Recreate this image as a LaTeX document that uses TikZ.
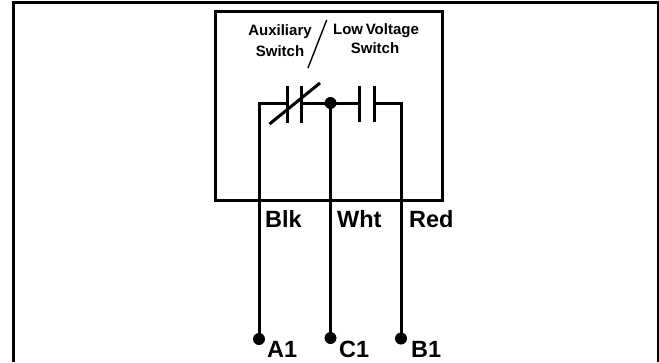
\documentclass[tikz,border=0pt]{standalone}
\usepackage{fontspec}
\setmainfont{Liberation Sans}
\tikzset{
  wire/.style={line width=3pt,black},
  outline/.style={line width=3pt,black},
  thinline/.style={line width=1.4pt,black},
  termdot/.style={circle,fill=black,inner sep=0pt,minimum size=12pt},
  smalltxt/.style={font=\fontsize{15}{17}\selectfont\bfseries,inner sep=0pt,anchor=base},
  bigtxt/.style={font=\fontsize{23.5}{26}\selectfont\bfseries,inner sep=0pt,anchor=base west},
}
\begin{document}
\begin{tikzpicture}[x=1pt,y=-1pt]
\useasboundingbox (0,0) rectangle (659,362);
% outer frame
\draw[line width=3pt] (13.5,362) -- (13.5,2) -- (658.5,2) -- (658.5,362);
% device box
\draw[outline] (215.5,11.5) rectangle (442.5,200.5);
% nodes
\node[termdot] (junction) at (330.5,103) {};
\node[termdot] (a1) at (259,339) {};
\node[termdot] (c1) at (330.5,338) {};
\node[termdot] (b1) at (401,338.5) {};
\coordinate (ltop) at (259.5,103.5);
\coordinate (rtop) at (401.5,103.5);
\coordinate (p1t) at (287.5,86); \coordinate (p1b) at (287.5,123);
\coordinate (p2t) at (301.5,86);   \coordinate (p2b) at (301.5,123);
\coordinate (p3t) at (359.5,85.5); \coordinate (p3b) at (359.5,122);
\coordinate (p4t) at (374.5,85.5); \coordinate (p4b) at (374.5,122);
\coordinate (p1m) at (287.5,103.5); \coordinate (p2m) at (301.5,103.5);
\coordinate (p3m) at (359.5,103.5);   \coordinate (p4m) at (374.5,103.5);
\coordinate (slashA) at (269.5,124); \coordinate (slashB) at (320,83);
\coordinate (divA) at (326.7,20); \coordinate (divB) at (308,68);
% wires
\draw[wire] (a1.center -| ltop) -- (ltop) -- (p1m);
\draw[wire] (p2m) -- (p3m);
\draw[wire] (c1.center) -- (junction.center);
\draw[wire] (b1.center -| rtop) -- (rtop) -- (p4m);
% contacts
\draw[wire] (p1t) -- (p1b);
\draw[wire] (p2t) -- (p2b);
\draw[wire] (p3t) -- (p3b);
\draw[wire] (p4t) -- (p4b);
\draw[wire] (slashA) -- (slashB);
\draw[thinline] (divA) -- (divB);
% text
\node[smalltxt] (t1) at (280,35) {Auxiliary};
\node[smalltxt] (t2) at (280,56) {Switch};
\node[smalltxt] (t3) at (376,34) {Low\hspace{-1.5pt} Voltage};
\node[smalltxt] (t4) at (375,53) {Switch};
\node[bigtxt] (blk) at (265,227) {Blk};
\node[bigtxt] (wht) at (337,227) {Wht};
\node[bigtxt] (red) at (409,227) {Red};
\node[bigtxt] (la1) at (267,357) {A1};
\node[bigtxt] (lc1) at (339,357) {C1};
\node[bigtxt] (lb1) at (411,357) {B1};
\end{tikzpicture}
\end{document}
